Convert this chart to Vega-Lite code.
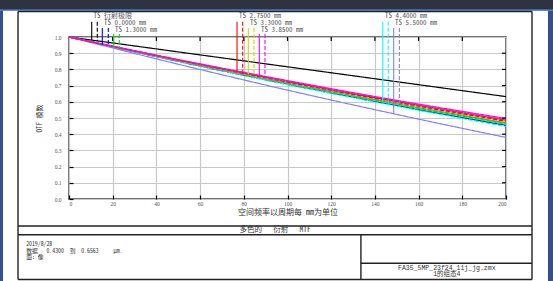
{
  "$schema": "https://vega.github.io/schema/vega-lite/v6.json",
  "width": 437,
  "height": 162,
  "autosize": {"type": "none"},
  "padding": {"left": 69, "top": 37, "right": 47, "bottom": 82},
  "background": "white",
  "config": {
    "font": "Noto Sans Mono CJK SC, Liberation Mono, Noto Sans CJK SC",
    "view": {"stroke": "#444", "strokeWidth": 1.5},
    "axis": {"titleFontWeight": "normal", "labelFont": "Liberation Serif", "titleFont": "Noto Sans Mono CJK SC, Noto Sans CJK SC", "labelOverlap": false, "grid": true, "gridColor": "#c8c8c8", "gridWidth": 1.2, "domain": false, "tickSize": -4, "tickColor": "#000", "tickWidth": 1.2, "labelFontSize": 5.5, "labelColor": "#555", "titleColor": "#333"},
    "axisX": {"labelPadding": 6, "titlePadding": 2, "titleFontSize": 8},
    "axisY": {"labelPadding": 12, "titlePadding": 12, "titleFontSize": 7}
  },
  "datasets": {
    "chrome": [
      {"part": "top", "x1": -31.6, "x2": 221.6, "y1": 1.229, "y2": 1.173},
      {"part": "band", "x1": -31.6, "x2": 221.6, "y1": 1.173, "y2": 1.162},
      {"part": "side", "x1": -31.6, "x2": -30.2, "y1": 1.162, "y2": -0.51},
      {"part": "side", "x1": 219.2, "x2": 221.6, "y1": 1.162, "y2": -0.51}
    ],
    "frame": [
      {"x1": -23.34, "y1": 1.157, "x2": 211.9, "y2": 1.157},
      {"x1": -23.34, "y1": -0.497, "x2": 211.9, "y2": -0.497},
      {"x1": -23.34, "y1": 1.157, "x2": -23.34, "y2": -0.497},
      {"x1": 211.9, "y1": 1.157, "x2": 211.9, "y2": -0.497},
      {"x1": -23.34, "y1": -0.1667, "x2": 211.9, "y2": -0.1667},
      {"x1": -23.34, "y1": -0.2204, "x2": 211.9, "y2": -0.2204},
      {"x1": 133.6, "y1": -0.2204, "x2": 133.6, "y2": -0.497},
      {"x1": 133.6, "y1": -0.397, "x2": 211.9, "y2": -0.397}
    ],
    "innerTicks": [
      {"x1": 20, "y1": 1, "x2": 20, "y2": 0.975},
      {"x1": 40, "y1": 1, "x2": 40, "y2": 0.975},
      {"x1": 60, "y1": 1, "x2": 60, "y2": 0.975},
      {"x1": 80, "y1": 1, "x2": 80, "y2": 0.975},
      {"x1": 100, "y1": 1, "x2": 100, "y2": 0.975},
      {"x1": 120, "y1": 1, "x2": 120, "y2": 0.975},
      {"x1": 140, "y1": 1, "x2": 140, "y2": 0.975},
      {"x1": 160, "y1": 1, "x2": 160, "y2": 0.975},
      {"x1": 180, "y1": 1, "x2": 180, "y2": 0.975},
      {"x1": 200, "y1": 0.1, "x2": 198.2, "y2": 0.1},
      {"x1": 200, "y1": 0.2, "x2": 198.2, "y2": 0.2},
      {"x1": 200, "y1": 0.3, "x2": 198.2, "y2": 0.3},
      {"x1": 200, "y1": 0.4, "x2": 198.2, "y2": 0.4},
      {"x1": 200, "y1": 0.5, "x2": 198.2, "y2": 0.5},
      {"x1": 200, "y1": 0.6, "x2": 198.2, "y2": 0.6},
      {"x1": 200, "y1": 0.7, "x2": 198.2, "y2": 0.7},
      {"x1": 200, "y1": 0.8, "x2": 198.2, "y2": 0.8},
      {"x1": 200, "y1": 0.9, "x2": 198.2, "y2": 0.9}
    ],
    "curves": [
      {"field": "衍射极限", "ts": "T", "f": 0, "mtf": 1},
      {"field": "衍射极限", "ts": "T", "f": 50, "mtf": 0.908},
      {"field": "衍射极限", "ts": "T", "f": 100, "mtf": 0.816},
      {"field": "衍射极限", "ts": "T", "f": 150, "mtf": 0.724},
      {"field": "衍射极限", "ts": "T", "f": 200, "mtf": 0.632},
      {"field": "5.5000", "ts": "T", "f": 0, "mtf": 1},
      {"field": "5.5000", "ts": "T", "f": 50, "mtf": 0.832},
      {"field": "5.5000", "ts": "T", "f": 100, "mtf": 0.672},
      {"field": "5.5000", "ts": "T", "f": 150, "mtf": 0.522},
      {"field": "5.5000", "ts": "T", "f": 200, "mtf": 0.38},
      {"field": "5.5000", "ts": "S", "f": 0, "mtf": 1},
      {"field": "5.5000", "ts": "S", "f": 50, "mtf": 0.854},
      {"field": "5.5000", "ts": "S", "f": 100, "mtf": 0.716},
      {"field": "5.5000", "ts": "S", "f": 150, "mtf": 0.588},
      {"field": "5.5000", "ts": "S", "f": 200, "mtf": 0.468},
      {"field": "0.0000", "ts": "T", "f": 0, "mtf": 1},
      {"field": "0.0000", "ts": "T", "f": 50, "mtf": 0.85},
      {"field": "0.0000", "ts": "T", "f": 100, "mtf": 0.71},
      {"field": "0.0000", "ts": "T", "f": 150, "mtf": 0.578},
      {"field": "0.0000", "ts": "T", "f": 200, "mtf": 0.455},
      {"field": "0.0000", "ts": "S", "f": 0, "mtf": 1},
      {"field": "0.0000", "ts": "S", "f": 50, "mtf": 0.85},
      {"field": "0.0000", "ts": "S", "f": 100, "mtf": 0.708},
      {"field": "0.0000", "ts": "S", "f": 150, "mtf": 0.576},
      {"field": "0.0000", "ts": "S", "f": 200, "mtf": 0.452},
      {"field": "4.4000", "ts": "T", "f": 0, "mtf": 1},
      {"field": "4.4000", "ts": "T", "f": 50, "mtf": 0.852},
      {"field": "4.4000", "ts": "T", "f": 100, "mtf": 0.713},
      {"field": "4.4000", "ts": "T", "f": 150, "mtf": 0.583},
      {"field": "4.4000", "ts": "T", "f": 200, "mtf": 0.462},
      {"field": "4.4000", "ts": "S", "f": 0, "mtf": 1},
      {"field": "4.4000", "ts": "S", "f": 50, "mtf": 0.849},
      {"field": "4.4000", "ts": "S", "f": 100, "mtf": 0.706},
      {"field": "4.4000", "ts": "S", "f": 150, "mtf": 0.573},
      {"field": "4.4000", "ts": "S", "f": 200, "mtf": 0.448},
      {"field": "1.3000", "ts": "T", "f": 0, "mtf": 1},
      {"field": "1.3000", "ts": "T", "f": 50, "mtf": 0.854},
      {"field": "1.3000", "ts": "T", "f": 100, "mtf": 0.717},
      {"field": "1.3000", "ts": "T", "f": 150, "mtf": 0.589},
      {"field": "1.3000", "ts": "T", "f": 200, "mtf": 0.47},
      {"field": "1.3000", "ts": "S", "f": 0, "mtf": 1},
      {"field": "1.3000", "ts": "S", "f": 50, "mtf": 0.852},
      {"field": "1.3000", "ts": "S", "f": 100, "mtf": 0.714},
      {"field": "1.3000", "ts": "S", "f": 150, "mtf": 0.584},
      {"field": "1.3000", "ts": "S", "f": 200, "mtf": 0.463},
      {"field": "3.3000", "ts": "T", "f": 0, "mtf": 1},
      {"field": "3.3000", "ts": "T", "f": 50, "mtf": 0.856},
      {"field": "3.3000", "ts": "T", "f": 100, "mtf": 0.721},
      {"field": "3.3000", "ts": "T", "f": 150, "mtf": 0.595},
      {"field": "3.3000", "ts": "T", "f": 200, "mtf": 0.478},
      {"field": "3.3000", "ts": "S", "f": 0, "mtf": 1},
      {"field": "3.3000", "ts": "S", "f": 50, "mtf": 0.857},
      {"field": "3.3000", "ts": "S", "f": 100, "mtf": 0.724},
      {"field": "3.3000", "ts": "S", "f": 150, "mtf": 0.599},
      {"field": "3.3000", "ts": "S", "f": 200, "mtf": 0.483},
      {"field": "2.7500", "ts": "T", "f": 0, "mtf": 1},
      {"field": "2.7500", "ts": "T", "f": 50, "mtf": 0.858},
      {"field": "2.7500", "ts": "T", "f": 100, "mtf": 0.726},
      {"field": "2.7500", "ts": "T", "f": 150, "mtf": 0.602},
      {"field": "2.7500", "ts": "T", "f": 200, "mtf": 0.487},
      {"field": "2.7500", "ts": "S", "f": 0, "mtf": 1},
      {"field": "2.7500", "ts": "S", "f": 50, "mtf": 0.857},
      {"field": "2.7500", "ts": "S", "f": 100, "mtf": 0.722},
      {"field": "2.7500", "ts": "S", "f": 150, "mtf": 0.597},
      {"field": "2.7500", "ts": "S", "f": 200, "mtf": 0.48},
      {"field": "3.8500", "ts": "T", "f": 0, "mtf": 1},
      {"field": "3.8500", "ts": "T", "f": 50, "mtf": 0.861},
      {"field": "3.8500", "ts": "T", "f": 100, "mtf": 0.731},
      {"field": "3.8500", "ts": "T", "f": 150, "mtf": 0.609},
      {"field": "3.8500", "ts": "T", "f": 200, "mtf": 0.497},
      {"field": "3.8500", "ts": "S", "f": 0, "mtf": 1},
      {"field": "3.8500", "ts": "S", "f": 50, "mtf": 0.859},
      {"field": "3.8500", "ts": "S", "f": 100, "mtf": 0.727},
      {"field": "3.8500", "ts": "S", "f": 150, "mtf": 0.604},
      {"field": "3.8500", "ts": "S", "f": 200, "mtf": 0.49}
    ],
    "keys": [
      {"field": "衍射极限", "ts": "T", "f": 10.4, "top": 1.094, "bottom": 0.981},
      {"field": "衍射极限", "ts": "S", "f": 12.95, "top": 1.094, "bottom": 0.976},
      {"field": "0.0000", "ts": "T", "f": 15.24, "top": 1.056, "bottom": 0.953},
      {"field": "0.0000", "ts": "S", "f": 17.99, "top": 1.056, "bottom": 0.945},
      {"field": "1.3000", "ts": "T", "f": 20.46, "top": 1.019, "bottom": 0.939},
      {"field": "1.3000", "ts": "S", "f": 23.02, "top": 1.019, "bottom": 0.931},
      {"field": "2.7500", "ts": "T", "f": 76.9, "top": 1.094, "bottom": 0.786},
      {"field": "2.7500", "ts": "S", "f": 79.5, "top": 1.094, "bottom": 0.776},
      {"field": "3.3000", "ts": "T", "f": 82.06, "top": 1.056, "bottom": 0.768},
      {"field": "3.3000", "ts": "S", "f": 84.67, "top": 1.056, "bottom": 0.764},
      {"field": "3.8500", "ts": "T", "f": 87.1, "top": 1.019, "bottom": 0.763},
      {"field": "3.8500", "ts": "S", "f": 89.7, "top": 1.019, "bottom": 0.753},
      {"field": "4.4000", "ts": "T", "f": 143.6, "top": 1.094, "bottom": 0.599},
      {"field": "4.4000", "ts": "S", "f": 146.1, "top": 1.094, "bottom": 0.582},
      {"field": "5.5000", "ts": "T", "f": 148.6, "top": 1.056, "bottom": 0.526},
      {"field": "5.5000", "ts": "S", "f": 151.2, "top": 1.056, "bottom": 0.585}
    ],
    "keyLabels": [
      {"text": "TS 衍射极限", "f": 11.2, "y": 1.13},
      {"text": "TS 0.0000 mm", "f": 16.0, "y": 1.087},
      {"text": "TS 1.3000 mm", "f": 21.05, "y": 1.046},
      {"text": "TS 2.7500 mm", "f": 77.8, "y": 1.13},
      {"text": "TS 3.3000 mm", "f": 82.8, "y": 1.087},
      {"text": "TS 3.8500 mm", "f": 87.9, "y": 1.046},
      {"text": "TS 4.4000 mm", "f": 144.6, "y": 1.13},
      {"text": "TS 5.5000 mm", "f": 149.2, "y": 1.087}
    ],
    "leftNotes": [
      {"text": "2019/8/28", "f": -19.6, "y": -0.277},
      {"text": "数据\u00a0\u00a0\u00a00.4300\u00a0\u00a0到\u00a0\u00a00.6563\u00a0\u00a0\u00a0\u00a0\u00a0μm.", "f": -19.6, "y": -0.318},
      {"text": "面:\u00a0像", "f": -19.6, "y": -0.358}
    ],
    "titleNote": [
      {"text": "多色的\u00a0\u00a0\u00a0衍射\u00a0\u00a0\u00a0MTF", "f": 94.3, "y": -0.1936}
    ],
    "fileNotes": [
      {"text": "FA35_5MP_23f24_11j_jg.zmx", "f": 172.9, "y": -0.424},
      {"text": "1的组态4", "f": 172.9, "y": -0.466}
    ]
  },
  "layer": [
    {
      "data": {"name": "curves"},
      "mark": {"type": "line", "strokeWidth": 1.2, "interpolate": "monotone"},
      "encoding": {
        "x": {
          "field": "f", "type": "quantitative",
          "scale": {"domain": [0, 200], "nice": false, "zero": false},
          "axis": {"values": [0, 20, 40, 60, 80, 100, 120, 140, 160, 180, 200], "title": "空间频率以周期每 mm为单位"}
        },
        "y": {
          "field": "mtf", "type": "quantitative",
          "scale": {"domain": [0, 1], "nice": false, "zero": false},
          "axis": {"values": [0, 0.1, 0.2, 0.3, 0.4, 0.5, 0.6, 0.7, 0.8, 0.9, 1], "format": ".1f", "title": "OTF 模数"}
        },
        "color": {
          "field": "field", "type": "nominal",
          "scale": {
            "domain": ["衍射极限", "0.0000", "1.3000", "2.7500", "3.3000", "3.8500", "4.4000", "5.5000"],
            "range": ["#000000", "#0000ff", "#00e000", "#ff0000", "#d4d400", "#ff00ff", "#00ffff", "#8080ff"]
          },
          "legend": null
        },
        "strokeDash": {
          "field": "ts", "type": "nominal",
          "scale": {"domain": ["T", "S"], "range": [[1, 0], [4, 2]]},
          "legend": null
        },
        "detail": {"field": "ts"}
      }
    },
    {
      "data": {"name": "chrome"},
      "mark": {"type": "rect"},
      "encoding": {
        "x": {"field": "x1", "type": "quantitative", "axis": {"values": [0, 20, 40, 60, 80, 100, 120, 140, 160, 180, 200], "title": "空间频率以周期每 mm为单位"}},
        "x2": {"field": "x2"},
        "y": {"field": "y1", "type": "quantitative", "axis": {"values": [0, 0.1, 0.2, 0.3, 0.4, 0.5, 0.6, 0.7, 0.8, 0.9, 1], "format": ".1f", "title": "OTF 模数"}},
        "y2": {"field": "y2"},
        "fill": {"field": "part", "type": "nominal", "scale": {"domain": ["top", "band", "side"], "range": ["#2f3341", "#3d63a6", "#31508f"]}, "legend": null}
      }
    },
    {
      "data": {"name": "frame"},
      "mark": {"type": "rule", "color": "#222", "strokeWidth": 1.4},
      "encoding": {
        "x": {"field": "x1", "type": "quantitative", "axis": {"values": [0, 20, 40, 60, 80, 100, 120, 140, 160, 180, 200], "title": "空间频率以周期每 mm为单位"}},
        "x2": {"field": "x2"},
        "y": {"field": "y1", "type": "quantitative", "axis": {"values": [0, 0.1, 0.2, 0.3, 0.4, 0.5, 0.6, 0.7, 0.8, 0.9, 1], "format": ".1f", "title": "OTF 模数"}},
        "y2": {"field": "y2"}
      }
    },
    {
      "data": {"name": "innerTicks"},
      "mark": {"type": "rule", "color": "#000", "strokeWidth": 1.2},
      "encoding": {
        "x": {"field": "x1", "type": "quantitative", "axis": {"values": [0, 20, 40, 60, 80, 100, 120, 140, 160, 180, 200], "title": "空间频率以周期每 mm为单位"}},
        "x2": {"field": "x2"},
        "y": {"field": "y1", "type": "quantitative", "axis": {"values": [0, 0.1, 0.2, 0.3, 0.4, 0.5, 0.6, 0.7, 0.8, 0.9, 1], "format": ".1f", "title": "OTF 模数"}},
        "y2": {"field": "y2"}
      }
    },
    {
      "data": {"name": "keys"},
      "mark": {"type": "rule", "strokeWidth": 1.1},
      "encoding": {
        "x": {"field": "f", "type": "quantitative", "axis": {"values": [0, 20, 40, 60, 80, 100, 120, 140, 160, 180, 200], "title": "空间频率以周期每 mm为单位"}},
        "y": {"field": "top", "type": "quantitative", "axis": {"values": [0, 0.1, 0.2, 0.3, 0.4, 0.5, 0.6, 0.7, 0.8, 0.9, 1], "format": ".1f", "title": "OTF 模数"}},
        "y2": {"field": "bottom"},
        "color": {"field": "field", "type": "nominal", "legend": null},
        "strokeDash": {"field": "ts", "type": "nominal", "legend": null}
      }
    },
    {
      "data": {"name": "keyLabels"},
      "mark": {"type": "text", "align": "left", "baseline": "middle", "fontSize": 7, "color": "#555"},
      "encoding": {
        "x": {"field": "f", "type": "quantitative", "axis": {"values": [0, 20, 40, 60, 80, 100, 120, 140, 160, 180, 200], "title": "空间频率以周期每 mm为单位"}},
        "y": {"field": "y", "type": "quantitative", "axis": {"values": [0, 0.1, 0.2, 0.3, 0.4, 0.5, 0.6, 0.7, 0.8, 0.9, 1], "format": ".1f", "title": "OTF 模数"}},
        "text": {"field": "text"}
      }
    },
    {
      "data": {"name": "leftNotes"},
      "mark": {"type": "text", "align": "left", "baseline": "middle", "fontSize": 5.8, "color": "#333"},
      "encoding": {
        "x": {"field": "f", "type": "quantitative", "axis": {"values": [0, 20, 40, 60, 80, 100, 120, 140, 160, 180, 200], "title": "空间频率以周期每 mm为单位"}},
        "y": {"field": "y", "type": "quantitative", "axis": {"values": [0, 0.1, 0.2, 0.3, 0.4, 0.5, 0.6, 0.7, 0.8, 0.9, 1], "format": ".1f", "title": "OTF 模数"}},
        "text": {"field": "text"}
      }
    },
    {
      "data": {"name": "titleNote"},
      "mark": {"type": "text", "align": "center", "baseline": "middle", "fontSize": 7.5, "color": "#333"},
      "encoding": {
        "x": {"field": "f", "type": "quantitative", "axis": {"values": [0, 20, 40, 60, 80, 100, 120, 140, 160, 180, 200], "title": "空间频率以周期每 mm为单位"}},
        "y": {"field": "y", "type": "quantitative", "axis": {"values": [0, 0.1, 0.2, 0.3, 0.4, 0.5, 0.6, 0.7, 0.8, 0.9, 1], "format": ".1f", "title": "OTF 模数"}},
        "text": {"field": "text"}
      }
    },
    {
      "data": {"name": "fileNotes"},
      "mark": {"type": "text", "align": "center", "baseline": "middle", "fontSize": 6.5, "color": "#333", "font": "Liberation Mono, Noto Sans Mono CJK SC"},
      "encoding": {
        "x": {"field": "f", "type": "quantitative", "axis": {"values": [0, 20, 40, 60, 80, 100, 120, 140, 160, 180, 200], "title": "空间频率以周期每 mm为单位"}},
        "y": {"field": "y", "type": "quantitative", "axis": {"values": [0, 0.1, 0.2, 0.3, 0.4, 0.5, 0.6, 0.7, 0.8, 0.9, 1], "format": ".1f", "title": "OTF 模数"}},
        "text": {"field": "text"}
      }
    }
  ]
}
